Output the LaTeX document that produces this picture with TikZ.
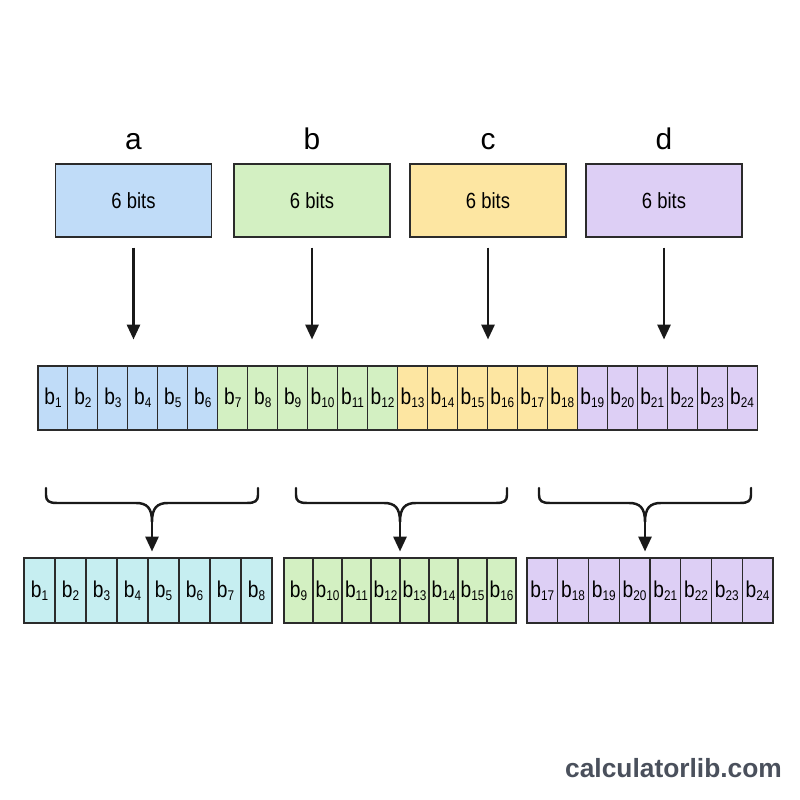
\documentclass[tikz,border=0pt]{standalone}
\usepackage{fontspec}
\setmainfont{Liberation Sans}
\newfontfamily\narrowfont[FakeStretch=0.84]{Liberation Sans}
\usepackage{xcolor}
\usetikzlibrary{arrows.meta, positioning, calc}

\definecolor{fillblue}{HTML}{C0DCF8}
\definecolor{fillgreen}{HTML}{D3F0C2}
\definecolor{fillyellow}{HTML}{FDE6A2}
\definecolor{fillpurple}{HTML}{DDCFF5}
\definecolor{fillcyan}{HTML}{C6EEF1}
\definecolor{linegray}{HTML}{2B2B2B}
\definecolor{wmgray}{HTML}{4A505C}
\colorlet{grp0}{fillblue}
\colorlet{grp1}{fillgreen}
\colorlet{grp2}{fillyellow}
\colorlet{grp3}{fillpurple}

\newcommand{\bitlabel}[1]{b\raisebox{-1.8pt}{\fontsize{8}{9}\selectfont #1}}

\begin{document}
\begin{tikzpicture}[
    x=0.02cm, y=0.02cm,
    box/.style={draw=linegray, line width=0.8pt, minimum width=3.12cm, minimum height=1.46cm, inner sep=0pt, font=\narrowfont\fontsize{12.5}{14}\selectfont},
    cell/.style={draw=linegray, line width=0.6pt, inner sep=0pt, font=\narrowfont\fontsize{13}{15}\selectfont},
    lbl/.style={font=\fontsize{17}{19}\selectfont, anchor=base, inner sep=0pt},
    arr/.style={-{Triangle[length=8.5pt, width=7.5pt]}, line width=1.4pt, black!90},
    brace/.style={line width=1.4pt, black!90, line cap=round},
]
\useasboundingbox (0,0) rectangle (800,800);

% input symbols
\foreach \name/\x/\col in {a/133.5/fillblue, b/312/fillgreen, c/488/fillyellow, d/664/fillpurple} {
    \node[box, fill=\col] (top-\name) at (\x,599.5) {6 bits};
    \node[lbl] (lbl-\name) at (\x,650) {\name};
}

% 24-bit stream
\foreach \i in {1,...,24} {
    \pgfmathtruncatemacro\grp{int((\i-1)/6)}
    \node[cell, fill=grp\grp, minimum width=0.599cm, minimum height=1.28cm] (m\i) at ({38+(\i-0.5)*29.96},402) {\bitlabel{\i}};
}

\foreach \name in {a,b,c,d}
    \draw[arr, shorten <=0.2cm, shorten >=0.52cm] (top-\name.south) -- (top-\name.south |- m1.north);

% output bytes
\foreach \k/\start/\w/\col in {1/24/31/fillcyan, 2/284/29/fillgreen, 3/527/30.75/fillpurple} {
    \foreach \j in {1,...,8} {
        \pgfmathtruncatemacro\n{(\k-1)*8+\j}
        \node[cell, fill=\col, minimum width=\w*0.02cm, minimum height=1.3cm] (lo\n) at ({\start+(\j-0.5)*\w},209.5) {\bitlabel{\n}};
    }
}

% braces
\foreach \k/\L/\R/\C in {1/46/258/152, 2/296/507/400, 3/539/751/645} {
    \coordinate (tip-\k) at (\C,278);
    \draw[brace] (\L,312) -- (\L,305) .. controls (\L,299) and (\L+3,297) .. (\L+11,297)
        -- (\C-16,297) .. controls (\C-5,297) and (\C,292) .. (tip-\k)
        .. controls (\C,292) and (\C+5,297) .. (\C+16,297)
        -- (\R-11,297) .. controls (\R-3,297) and (\R,299) .. (\R,305) -- (\R,312);
}
\draw[arr, shorten >=0.12cm] (tip-1) -- (tip-1 |- lo1.north);
\draw[arr, shorten >=0.12cm] (tip-2) -- (tip-2 |- lo9.north);
\draw[arr, shorten >=0.12cm] (tip-3) -- (tip-3 |- lo17.north);

\node[font=\bfseries\fontsize{15}{18}\selectfont, text=wmgray, anchor=base, inner sep=0pt] (credit) at (673.5,22) {calculatorlib.com};
\end{tikzpicture}
\end{document}
